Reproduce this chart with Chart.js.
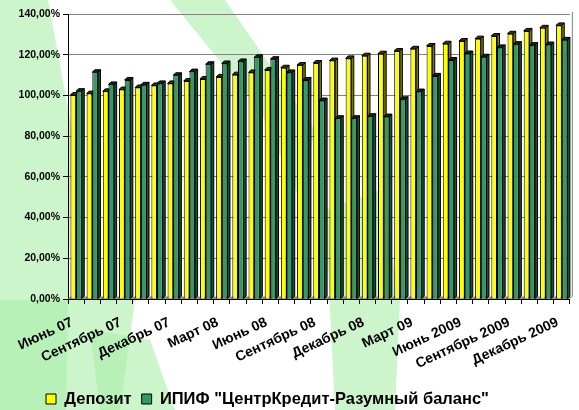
<!DOCTYPE html>
<html><head><meta charset="utf-8">
<script src="https://cdn.jsdelivr.net/npm/chart.js@4/dist/chart.umd.min.js"></script>
<style>html,body{margin:0;padding:0;background:#fff;overflow:hidden}</style>
</head><body>
<canvas id="c" width="579" height="410"></canvas>
<script>
const categories = ["Июнь 07","Июль 07","Август 07","Сентябрь 07","Октябрь 07","Ноябрь 07","Декабрь 07",
  "Январь 08","Февраль 08","Март 08","Апрель 08","Май 08","Июнь 08","Июль 08","Август 08","Сентябрь 08","Октябрь 08","Ноябрь 08","Декабрь 08",
  "Январь 09","Февраль 09","Март 09","Апрель 09","Май 09","Июнь 2009","Июль 2009","Август 2009","Сентябрь 2009","Октябрь 2009","Ноябрь 2009","Декабрь 2009"];
const seriesNames = ["Депозит", "ИПИФ \"ЦентрКредит-Разумный баланс\""];
const depositValues = [100.2,100.9,102.0,102.9,103.9,104.9,105.9,107.1,108.1,109.1,110.2,111.3,112.5,113.6,114.9,115.9,117.1,118.2,119.5,120.5,121.8,122.9,124.3,125.4,126.7,127.9,129.2,130.3,131.7,133.2,134.4];
const fundValues = [102.1,111.4,105.4,107.6,105.2,105.9,109.9,111.7,115.3,115.7,116.7,118.7,117.8,111.3,107.6,97.5,88.8,88.8,89.8,89.6,98.1,101.9,109.6,117.4,120.6,119.0,123.6,125.2,124.7,125.0,127.3];
const yTicks = [0,20,40,60,80,100,120,140];
const labelEvery = 3;

const FONT = "'Liberation Sans', Arial, sans-serif";
const D = 2.5;

const background = {
  id: 'bg',
  beforeDraw(chart) {
    const ctx = chart.ctx;
    ctx.save();
    ctx.fillStyle = '#ffffff';
    ctx.fillRect(0, 0, chart.width, chart.height);
    ctx.fillStyle = 'rgba(170,238,170,0.6)';
    const polys = [
      [[0,0],[48,0],[72,130],[66,410],[0,410]],
      [[0,300],[135,300],[120,410],[0,410]],
      [[170,0],[225,0],[315,130],[300,200],[260,110]],
      [[325,210],[380,190],[400,300],[395,410],[335,410]],
      [[90,330],[150,340],[175,410],[100,410]]
    ];
    polys.forEach(p => {
      ctx.beginPath();
      ctx.moveTo(p[0][0], p[0][1]);
      for (let i = 1; i < p.length; i++) ctx.lineTo(p[i][0], p[i][1]);
      ctx.closePath();
      ctx.fill();
    });
    ctx.restore();
  }
};

const legendShift = {
  id: 'legendShift',
  afterLayout(chart) {
    if (chart.legend) chart.legend.left = 36;
  }
};

const depth3d = {
  id: 'depth3d',
  beforeDatasetsDraw(chart) {
    const ctx = chart.ctx;
    const {left, right, top, bottom} = chart.chartArea;
    ctx.save();
    ctx.strokeStyle = '#808080';
    ctx.lineWidth = 1;
    ctx.beginPath();
    ctx.moveTo(right + D, top - D + 0.5);
    ctx.lineTo(right + D, bottom - D);
    ctx.stroke();
    ctx.fillStyle = '#8c8c8c';
    ctx.beginPath();
    ctx.moveTo(left, bottom);
    ctx.lineTo(left + D, bottom - D);
    ctx.lineTo(right + D, bottom - D);
    ctx.lineTo(right, bottom);
    ctx.closePath();
    ctx.fill();
    chart.data.datasets.forEach((ds, i) => {
      const meta = chart.getDatasetMeta(i);
      meta.data.forEach(bar => {
        const p = bar.getProps(['x','y','base','width'], true);
        const l = p.x - p.width / 2, r = p.x + p.width / 2;
        ctx.strokeStyle = '#000';
        ctx.lineWidth = 1;
        ctx.fillStyle = ds.sideColor;
        ctx.beginPath();
        ctx.moveTo(r, p.y); ctx.lineTo(r + D, p.y - D); ctx.lineTo(r + D, p.base - D); ctx.lineTo(r, p.base);
        ctx.closePath(); ctx.fill(); ctx.stroke();
        ctx.fillStyle = ds.capColor;
        ctx.beginPath();
        ctx.moveTo(l, p.y); ctx.lineTo(l + D, p.y - D); ctx.lineTo(r + D, p.y - D); ctx.lineTo(r, p.y);
        ctx.closePath(); ctx.fill(); ctx.stroke();
      });
    });
    ctx.restore();
  }
};

new Chart(document.getElementById('c'), {
  type: 'bar',
  data: {
    labels: categories,
    datasets: [
      { label: seriesNames[0], data: depositValues, backgroundColor: '#ffff00', borderColor: '#000', borderWidth: 1,
        sideColor: '#7a7a00', capColor: '#3a3a00' },
      { label: seriesNames[1], data: fundValues, backgroundColor: '#339966', borderColor: '#000', borderWidth: 1,
        sideColor: '#1b4f35', capColor: '#0f2c1d' }
    ]
  },
  options: {
    responsive: false,
    animation: false,
    devicePixelRatio: 1,
    layout: { padding: { left: 0, right: 9, top: 14, bottom: -7.25 } },
    datasets: { bar: { categoryPercentage: 0.7, barPercentage: 1.0 } },
    plugins: {
      tooltip: { enabled: false },
      legend: {
        position: 'bottom', align: 'start',
        labels: { boxWidth: 10, boxHeight: 10, padding: 10, color: '#000',
          font: { family: FONT, size: 16.5, weight: 'bold' } }
      }
    },
    scales: {
      x: {
        offset: true,
        grid: { display: true, drawOnChartArea: false, offset: true, tickLength: 5, tickColor: '#000' },
        border: { color: '#000', width: 1 },
        ticks: {
          autoSkip: false, maxRotation: 25, minRotation: 25, padding: 10, labelOffset: -4, color: '#000',
          font: { family: FONT, size: 14, weight: 'bold' },
          callback: (v, i) => (i % labelEvery === 0 ? categories[i] : '')
        },
        afterFit: s => { s.height = 81.75; }
      },
      y: {
        min: 0, max: 140,
        afterBuildTicks: s => { s.ticks = yTicks.map(v => ({ value: v })); },
        grid: { color: '#808080', tickLength: 5, tickColor: '#000' },
        border: { color: '#000', width: 1 },
        ticks: { color: '#000', padding: 3, font: { family: FONT, size: 10.5, weight: 'bold' },
          callback: v => v.toFixed(2).replace('.', ',') + '%' },
        afterFit: s => { s.width = 68; }
      }
    }
  },
  plugins: [background, legendShift, depth3d]
});
</script>
</body></html>
